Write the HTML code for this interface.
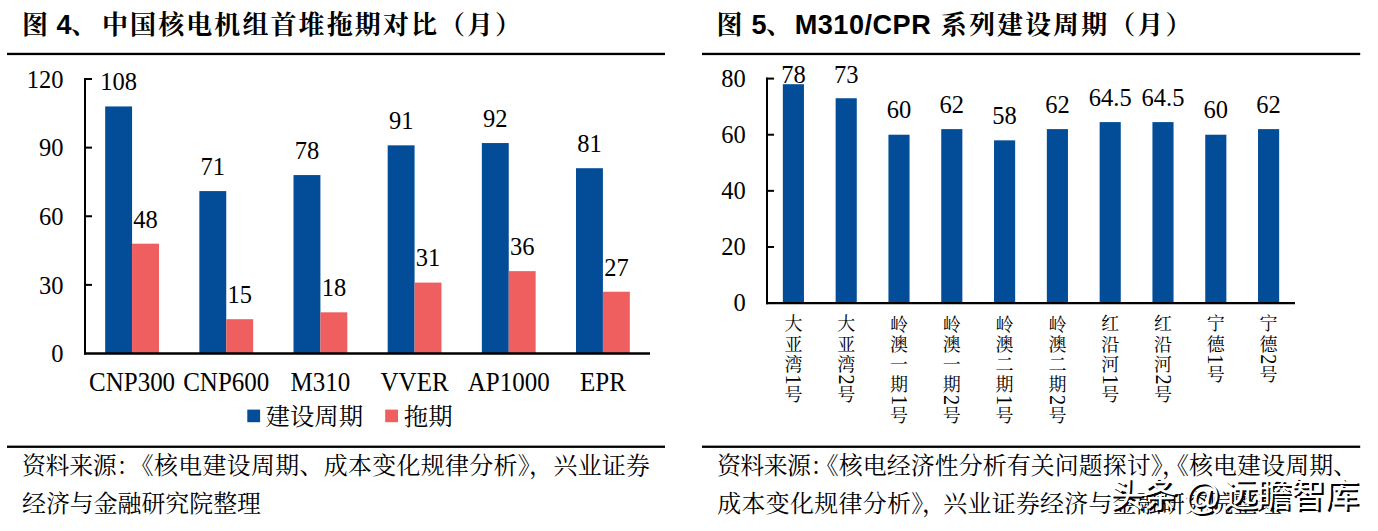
<!DOCTYPE html>
<html lang="zh"><head><meta charset="utf-8"><title>Chart</title>
<style>
html,body{margin:0;padding:0;background:#fff}
body{width:1378px;height:531px;overflow:hidden;position:relative;font-family:"Liberation Serif",serif}
svg{position:absolute;left:0;top:0;display:block}
</style></head><body>
<svg width="1378" height="531" viewBox="0 0 1378 531" font-size="24" font-family="Liberation Serif, serif" fill="#000">
<rect x="7" y="52.8" width="658" height="2.3" fill="#000"/>
<rect x="702" y="52.8" width="658.2" height="2.3" fill="#000"/>
<rect x="7" y="445.6" width="658" height="2.3" fill="#000"/>
<rect x="702" y="445.6" width="658.2" height="2.3" fill="#000"/>
<text x="22" y="33.8" font-size="26" font-weight="bold" font-family="'Liberation Serif','Noto Serif CJK SC',serif">图</text>
<text x="56.6" y="33.6" font-size="27.1" font-weight="bold" font-family="Liberation Sans, sans-serif">4</text>
<text x="71" y="33.8" font-size="26" font-weight="bold" font-family="'Liberation Serif','Noto Serif CJK SC',serif">、</text>
<text x="102" y="33.8" font-size="26" font-weight="bold" letter-spacing="2.08" font-family="'Liberation Serif','Noto Serif CJK SC',serif">中国核电机组首堆拖期对比（月）</text>
<text x="716.5" y="33.8" font-size="26" font-weight="bold" font-family="'Liberation Serif','Noto Serif CJK SC',serif">图</text>
<text x="751.6" y="33.6" font-size="27.1" font-weight="bold" font-family="Liberation Sans, sans-serif">5</text>
<text x="766" y="33.8" font-size="26" font-weight="bold" font-family="'Liberation Serif','Noto Serif CJK SC',serif">、</text>
<text x="794.7" y="33.6" font-size="27.1" font-weight="bold" font-family="Liberation Sans, sans-serif" letter-spacing="0.5">M310/CPR</text>
<text x="940.8" y="33.8" font-size="26" font-weight="bold" letter-spacing="2.08" font-family="'Liberation Serif','Noto Serif CJK SC',serif">系列建设周期（月）</text>
<rect x="105.18" y="106.45" width="26.9" height="247.05" fill="#034C97"/>
<text transform="translate(118.63 90.25) scale(1 1.07)" font-size="24.5" text-anchor="middle">108</text>
<rect x="132.08" y="243.7" width="26.9" height="109.8" fill="#EF5F60"/>
<text transform="translate(145.54 227.5) scale(1 1.07)" font-size="24.5" text-anchor="middle">48</text>
<text transform="translate(132.08 390.8) scale(1 1.07)" font-size="25" text-anchor="middle">CNP300</text>
<rect x="199.35" y="191.09" width="26.9" height="162.41" fill="#034C97"/>
<text transform="translate(212.8 174.89) scale(1 1.07)" font-size="24.5" text-anchor="middle">71</text>
<rect x="226.25" y="319.19" width="26.9" height="34.31" fill="#EF5F60"/>
<text transform="translate(239.7 302.99) scale(1 1.07)" font-size="24.5" text-anchor="middle">15</text>
<text transform="translate(226.25 390.8) scale(1 1.07)" font-size="25" text-anchor="middle">CNP600</text>
<rect x="293.51" y="175.07" width="26.9" height="178.43" fill="#034C97"/>
<text transform="translate(306.96 158.88) scale(1 1.07)" font-size="24.5" text-anchor="middle">78</text>
<rect x="320.42" y="312.32" width="26.9" height="41.18" fill="#EF5F60"/>
<text transform="translate(333.87 296.12) scale(1 1.07)" font-size="24.5" text-anchor="middle">18</text>
<text transform="translate(320.42 390.8) scale(1 1.07)" font-size="25" text-anchor="middle">M310</text>
<rect x="387.68" y="145.34" width="26.9" height="208.16" fill="#034C97"/>
<text transform="translate(401.13 129.14) scale(1 1.07)" font-size="24.5" text-anchor="middle">91</text>
<rect x="414.58" y="282.59" width="26.9" height="70.91" fill="#EF5F60"/>
<text transform="translate(428.04 266.39) scale(1 1.07)" font-size="24.5" text-anchor="middle">31</text>
<text transform="translate(414.58 390.8) scale(1 1.07)" font-size="25" text-anchor="middle">VVER</text>
<rect x="481.85" y="143.05" width="26.9" height="210.45" fill="#034C97"/>
<text transform="translate(495.3 126.85) scale(1 1.07)" font-size="24.5" text-anchor="middle">92</text>
<rect x="508.75" y="271.15" width="26.9" height="82.35" fill="#EF5F60"/>
<text transform="translate(522.2 254.95) scale(1 1.07)" font-size="24.5" text-anchor="middle">36</text>
<text transform="translate(508.75 390.8) scale(1 1.07)" font-size="25" text-anchor="middle">AP1000</text>
<rect x="576.01" y="168.21" width="26.9" height="185.29" fill="#034C97"/>
<text transform="translate(589.46 152.01) scale(1 1.07)" font-size="24.5" text-anchor="middle">81</text>
<rect x="602.92" y="291.74" width="26.9" height="61.76" fill="#EF5F60"/>
<text transform="translate(616.37 275.54) scale(1 1.07)" font-size="24.5" text-anchor="middle">27</text>
<text transform="translate(602.92 390.8) scale(1 1.07)" font-size="25" text-anchor="middle">EPR</text>
<path d="M85 78L85 354.6" stroke="#000" stroke-width="2" fill="none"/>
<path d="M84 353.5L650 353.5" stroke="#000" stroke-width="2.3" fill="none"/>
<text transform="translate(63.4 362.3) scale(1 1.07)" font-size="24.5" text-anchor="end">0</text>
<path d="M85 284.88L92 284.88" stroke="#000" stroke-width="2" fill="none"/>
<text transform="translate(63.4 293.68) scale(1 1.07)" font-size="24.5" text-anchor="end">30</text>
<path d="M85 216.25L92 216.25" stroke="#000" stroke-width="2" fill="none"/>
<text transform="translate(63.4 225.05) scale(1 1.07)" font-size="24.5" text-anchor="end">60</text>
<path d="M85 147.62L92 147.62" stroke="#000" stroke-width="2" fill="none"/>
<text transform="translate(63.4 156.43) scale(1 1.07)" font-size="24.5" text-anchor="end">90</text>
<path d="M85 79L92 79" stroke="#000" stroke-width="2" fill="none"/>
<text transform="translate(63.4 87.8) scale(1 1.07)" font-size="24.5" text-anchor="end">120</text>
<rect x="247.3" y="409.6" width="12.8" height="12.6" fill="#034C97"/>
<text x="265.5" y="425" font-size="24.4" font-family="'Liberation Serif','Noto Serif CJK SC',serif">建设周期</text>
<rect x="385.2" y="409.6" width="12.8" height="12.6" fill="#EF5F60"/>
<text x="403.8" y="425" font-size="24.4" font-family="'Liberation Serif','Noto Serif CJK SC',serif">拖期</text>
<rect x="782.84" y="84.21" width="21.12" height="218.89" fill="#034C97"/>
<text transform="translate(793.4 83.1) scale(1 1.07)" font-size="24.5" text-anchor="middle">78</text>
<text font-size="18" font-family="'Liberation Serif','Noto Serif CJK SC',serif"><tspan x="784.4" y="330.44">大</tspan><tspan x="784.4" y="350.74">亚</tspan><tspan x="784.4" y="371.04">湾</tspan><tspan x="784.4" y="401.49">号</tspan></text>
<text font-size="20.3" transform="translate(786.09 374.6) rotate(90) scale(1 1.1)">1</text>
<rect x="835.64" y="98.24" width="21.12" height="204.86" fill="#034C97"/>
<text transform="translate(846.2 83.1) scale(1 1.07)" font-size="24.5" text-anchor="middle">73</text>
<text font-size="18" font-family="'Liberation Serif','Noto Serif CJK SC',serif"><tspan x="837.2" y="330.44">大</tspan><tspan x="837.2" y="350.74">亚</tspan><tspan x="837.2" y="371.04">湾</tspan><tspan x="837.2" y="401.49">号</tspan></text>
<text font-size="20.3" transform="translate(838.89 374.6) rotate(90) scale(1 1.1)">2</text>
<rect x="888.44" y="134.72" width="21.12" height="168.38" fill="#034C97"/>
<text transform="translate(899 118.12) scale(1 1.07)" font-size="24.5" text-anchor="middle">60</text>
<text font-size="18" font-family="'Liberation Serif','Noto Serif CJK SC',serif"><tspan x="890" y="331.44">岭</tspan><tspan x="890" y="350.74">澳</tspan><tspan x="890" y="371.04">一</tspan><tspan x="890" y="391.34">期</tspan><tspan x="890" y="421.79">号</tspan></text>
<text font-size="20.3" transform="translate(891.69 394.9) rotate(90) scale(1 1.1)">1</text>
<rect x="941.24" y="129.11" width="21.12" height="173.99" fill="#034C97"/>
<text transform="translate(951.8 112.51) scale(1 1.07)" font-size="24.5" text-anchor="middle">62</text>
<text font-size="18" font-family="'Liberation Serif','Noto Serif CJK SC',serif"><tspan x="942.8" y="331.44">岭</tspan><tspan x="942.8" y="350.74">澳</tspan><tspan x="942.8" y="371.04">一</tspan><tspan x="942.8" y="391.34">期</tspan><tspan x="942.8" y="421.79">号</tspan></text>
<text font-size="20.3" transform="translate(944.49 394.9) rotate(90) scale(1 1.1)">2</text>
<rect x="994.04" y="140.34" width="21.12" height="162.76" fill="#034C97"/>
<text transform="translate(1004.6 123.74) scale(1 1.07)" font-size="24.5" text-anchor="middle">58</text>
<text font-size="18" font-family="'Liberation Serif','Noto Serif CJK SC',serif"><tspan x="995.6" y="331.44">岭</tspan><tspan x="995.6" y="350.74">澳</tspan><tspan x="995.6" y="371.04">二</tspan><tspan x="995.6" y="391.34">期</tspan><tspan x="995.6" y="421.79">号</tspan></text>
<text font-size="20.3" transform="translate(997.29 394.9) rotate(90) scale(1 1.1)">1</text>
<rect x="1046.84" y="129.11" width="21.12" height="173.99" fill="#034C97"/>
<text transform="translate(1057.4 112.51) scale(1 1.07)" font-size="24.5" text-anchor="middle">62</text>
<text font-size="18" font-family="'Liberation Serif','Noto Serif CJK SC',serif"><tspan x="1048.4" y="331.44">岭</tspan><tspan x="1048.4" y="350.74">澳</tspan><tspan x="1048.4" y="371.04">二</tspan><tspan x="1048.4" y="391.34">期</tspan><tspan x="1048.4" y="421.79">号</tspan></text>
<text font-size="20.3" transform="translate(1050.09 394.9) rotate(90) scale(1 1.1)">2</text>
<rect x="1099.64" y="122.1" width="21.12" height="181" fill="#034C97"/>
<text transform="translate(1110.2 105.5) scale(1 1.07)" font-size="24.5" text-anchor="middle">64.5</text>
<text font-size="18" font-family="'Liberation Serif','Noto Serif CJK SC',serif"><tspan x="1101.2" y="330.44">红</tspan><tspan x="1101.2" y="350.74">沿</tspan><tspan x="1101.2" y="371.04">河</tspan><tspan x="1101.2" y="401.49">号</tspan></text>
<text font-size="20.3" transform="translate(1102.89 374.6) rotate(90) scale(1 1.1)">1</text>
<rect x="1152.44" y="122.1" width="21.12" height="181" fill="#034C97"/>
<text transform="translate(1163 105.5) scale(1 1.07)" font-size="24.5" text-anchor="middle">64.5</text>
<text font-size="18" font-family="'Liberation Serif','Noto Serif CJK SC',serif"><tspan x="1154" y="330.44">红</tspan><tspan x="1154" y="350.74">沿</tspan><tspan x="1154" y="371.04">河</tspan><tspan x="1154" y="401.49">号</tspan></text>
<text font-size="20.3" transform="translate(1155.69 374.6) rotate(90) scale(1 1.1)">2</text>
<rect x="1205.24" y="134.72" width="21.12" height="168.38" fill="#034C97"/>
<text transform="translate(1215.8 118.12) scale(1 1.07)" font-size="24.5" text-anchor="middle">60</text>
<text font-size="18" font-family="'Liberation Serif','Noto Serif CJK SC',serif"><tspan x="1206.8" y="330.44">宁</tspan><tspan x="1206.8" y="350.74">德</tspan><tspan x="1206.8" y="381.19">号</tspan></text>
<text font-size="20.3" transform="translate(1208.49 354.3) rotate(90) scale(1 1.1)">1</text>
<rect x="1258.04" y="129.11" width="21.12" height="173.99" fill="#034C97"/>
<text transform="translate(1268.6 112.51) scale(1 1.07)" font-size="24.5" text-anchor="middle">62</text>
<text font-size="18" font-family="'Liberation Serif','Noto Serif CJK SC',serif"><tspan x="1259.6" y="330.44">宁</tspan><tspan x="1259.6" y="350.74">德</tspan><tspan x="1259.6" y="381.19">号</tspan></text>
<text font-size="20.3" transform="translate(1261.29 354.3) rotate(90) scale(1 1.1)">2</text>
<path d="M767 77.6L767 304.2" stroke="#000" stroke-width="2" fill="none"/>
<path d="M766 303.1L1295 303.1" stroke="#000" stroke-width="2.3" fill="none"/>
<text transform="translate(745.8 311.1) scale(1 1.07)" font-size="24.5" text-anchor="end">0</text>
<path d="M767 246.98L774 246.98" stroke="#000" stroke-width="2" fill="none"/>
<text transform="translate(745.8 254.98) scale(1 1.07)" font-size="24.5" text-anchor="end">20</text>
<path d="M767 190.85L774 190.85" stroke="#000" stroke-width="2" fill="none"/>
<text transform="translate(745.8 198.85) scale(1 1.07)" font-size="24.5" text-anchor="end">40</text>
<path d="M767 134.72L774 134.72" stroke="#000" stroke-width="2" fill="none"/>
<text transform="translate(745.8 142.72) scale(1 1.07)" font-size="24.5" text-anchor="end">60</text>
<path d="M767 78.6L774 78.6" stroke="#000" stroke-width="2" fill="none"/>
<text transform="translate(745.8 86.6) scale(1 1.07)" font-size="24.5" text-anchor="end">80</text>
<text x="21.9" y="474" font-size="23.9" letter-spacing="-0.23" font-family="'Liberation Serif','Noto Serif CJK SC',serif">资料来源：</text>
<text x="129.8" y="474" font-size="23.9" letter-spacing="0.35" font-family="'Liberation Serif','Noto Serif CJK SC',serif">《核电建设周期、成本变化规律分析》</text>
<text x="529" y="474" font-size="23.9" font-family="'Liberation Serif','Noto Serif CJK SC',serif">，</text>
<text x="553.4" y="474" font-size="23.9" letter-spacing="0.35" font-family="'Liberation Serif','Noto Serif CJK SC',serif">兴业证券</text>
<text x="22" y="511.5" font-size="23.9" font-family="'Liberation Serif','Noto Serif CJK SC',serif">经济与金融研究院整理</text>
<text x="716.95" y="474" font-size="23.9" letter-spacing="-0.5" font-family="'Liberation Serif','Noto Serif CJK SC',serif">资料来源：</text>
<text x="814.85" y="474" font-size="23.9" letter-spacing="0.1" font-family="'Liberation Serif','Noto Serif CJK SC',serif">《核电经济性分析有关问题探讨》</text>
<text x="1162" y="474" font-size="23.9" font-family="'Liberation Serif','Noto Serif CJK SC',serif">，</text>
<text x="1165" y="474" font-size="23.9" letter-spacing="0.15" font-family="'Liberation Serif','Noto Serif CJK SC',serif">《核电建设周期、</text>
<text x="717.2" y="511.5" font-size="23.9" letter-spacing="0.36" font-family="'Liberation Serif','Noto Serif CJK SC',serif">成本变化规律分析》</text>
<text x="922" y="511.5" font-size="23.9" font-family="'Liberation Serif','Noto Serif CJK SC',serif">，</text>
<text x="943.35" y="511.5" font-size="23.9" letter-spacing="0.3" font-family="'Liberation Serif','Noto Serif CJK SC',serif">兴业证券经济与金融研究院整理</text>
<g fill="#000" font-family="'Liberation Sans','Noto Sans CJK SC',sans-serif">
<text x="1111.5" y="509.3" font-size="34.5" letter-spacing="-0.8">头条</text>
<text x="1186" y="511" font-size="36">@</text>
<text x="1225.3" y="509.3" font-size="34.5" letter-spacing="-0.8">远瞻智库</text>
</g>
<g fill="#fff" font-family="'Liberation Sans','Noto Sans CJK SC',sans-serif">
<text x="1109.4" y="507.2" font-size="34.5" letter-spacing="-0.8">头条</text>
<text x="1183.9" y="508.9" font-size="36">@</text>
<text x="1223.2" y="507.2" font-size="34.5" letter-spacing="-0.8">远瞻智库</text>
</g>
</svg>
</body></html>
